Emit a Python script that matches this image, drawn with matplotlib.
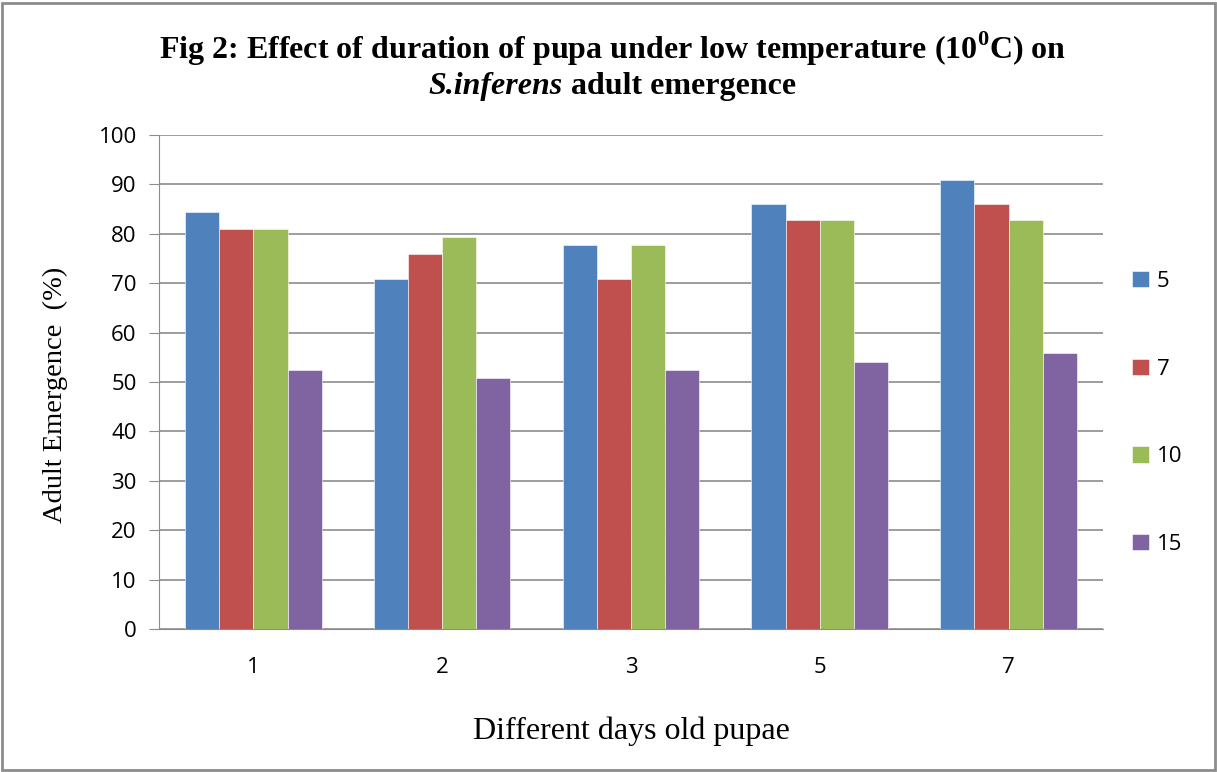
import matplotlib
matplotlib.use('Agg')
import matplotlib.pyplot as plt
import numpy as np

# data
days = ['1', '2', '3', '5', '7']
series_names = ['5', '7', '10', '15']
s5 = [84.4, 70.9, 77.7, 86.0, 90.9]
s7 = [81.0, 75.9, 70.9, 82.7, 86.0]
s10 = [81.0, 79.3, 77.7, 82.7, 82.7]
s15 = [52.4, 50.8, 52.4, 54.1, 55.8]
colors = ['#4f81bd', '#c0504d', '#9bbb59', '#8064a2']

plt.rcParams['mathtext.fontset'] = 'custom'
plt.rcParams['mathtext.rm'] = 'Liberation Serif:bold'
plt.rcParams['mathtext.bf'] = 'Liberation Serif:bold'

fig = plt.figure(figsize=(12.17, 7.72), dpi=100)
ax = fig.add_axes([0.1306, 0.1852, 0.7757, 0.6399])

x = np.arange(len(days))
w = 0.181
for i, vals in enumerate([s5, s7, s10, s15]):
    ax.bar(x + (i - 1.5) * w, vals, w, color=colors[i], label=series_names[i],
           edgecolor='white', linewidth=0.4, zorder=3)

ax.set_xlim(-0.5, len(days) - 0.5)
ax.set_ylim(0, 100)
ax.set_yticks(range(0, 101, 10))
ax.set_xticks(x)
ax.set_xticklabels(days)
ax.yaxis.grid(True, color='#8c8c8c', linewidth=1.2, zorder=0)
for s in ['top', 'right']:
    ax.spines[s].set_visible(False)
ax.spines['left'].set_color('#8c8c8c')
ax.spines['bottom'].set_color('#8c8c8c')
ax.tick_params(axis='y', length=7, color='#8c8c8c', labelsize=16, pad=9)
ax.tick_params(axis='x', length=0, labelsize=16, pad=20)
for lab in ax.get_xticklabels() + ax.get_yticklabels():
    lab.set_fontfamily('Open Sans')

ax.set_ylabel('Adult Emergence  (%)', fontsize=20.5, family='Liberation Serif', labelpad=22)
ax.yaxis.label.set_y(0.474)
ax.set_xlabel('Different days old pupae', fontsize=23, family='Liberation Serif', labelpad=28)

fig.text(0.503, 0.937, r'Fig 2: Effect of duration of pupa under low temperature (10$^{0}$C) on',
         ha='center', va='center', fontsize=23, family='Liberation Serif', weight='bold')
# second title line: italic part + bold part
fig.canvas.draw()
r = fig.canvas.get_renderer()
t1 = fig.text(0, 0.888, 'S.inferens', fontsize=23, family='Liberation Serif',
              weight='bold', style='italic', va='center')
t2 = fig.text(0, 0.888, ' adult emergence', fontsize=23, family='Liberation Serif',
              weight='bold', va='center')
w1 = t1.get_window_extent(r).width / fig.bbox.width
w2 = t2.get_window_extent(r).width / fig.bbox.width
start = 0.503 - (w1 + w2) / 2
t1.set_x(start)
t2.set_x(start + w1)

leg = fig.legend(loc='center left', bbox_to_anchor=(0.914, 0.465), frameon=False,
                 handlelength=0.75, handleheight=0.75, handletextpad=0.35,
                 labelspacing=3.0, prop={'family': 'Open Sans', 'size': 16})

fig.patches.append(plt.Rectangle((0.002, 0.002), 0.996, 0.994, transform=fig.transFigure,
                                 fill=False, edgecolor='#8c8c8c', linewidth=2))

fig.savefig('out.png', dpi=100)
